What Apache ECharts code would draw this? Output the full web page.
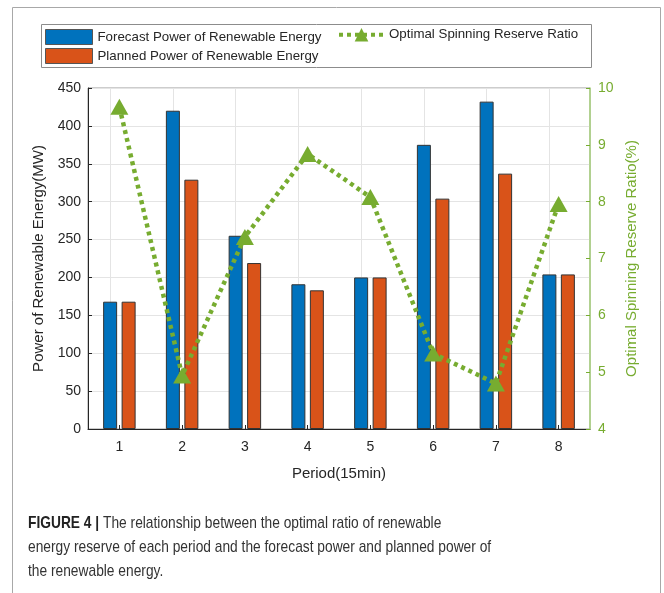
<!DOCTYPE html>
<html>
<head>
<meta charset="utf-8">
<script src="https://cdn.jsdelivr.net/npm/echarts@6/dist/echarts.min.js"></script>
<style>
  html, body { margin: 0; padding: 0; background: #fff; }
  #chart { width: 664px; height: 593px; }
</style>
</head>
<body>
<div id="chart"></div>
<script>
// Periods (15-minute intervals)
const periods = ['1', '2', '3', '4', '5', '6', '7', '8'];
// Renewable power, MW
const forecastPower = [168, 420, 255, 191, 200, 375, 432, 204];
const plannedPower = [168, 329, 219, 183, 200, 304, 337, 204];
// Optimal spinning reserve ratio, %
const reserveRatio = [9.67, 4.94, 7.38, 8.84, 8.08, 5.33, 4.80, 7.96];

const captionLines = [
  'The relationship between the optimal ratio of renewable',
  'energy reserve of each period and the forecast power and planned power of',
  'the renewable energy.'
];

const BLUE = '#0072BD';
const ORANGE = '#D95319';
const GREEN = '#77AC30';
const FONT = 'Liberation Sans, Arial, Helvetica, sans-serif';

const chart = echarts.init(document.getElementById('chart'), null, { renderer: 'canvas' });

const legendBase = {
  orient: 'horizontal',
  itemGap: 0,
  padding: 0,
  itemHeight: 15,
  textStyle: { fontFamily: FONT, fontSize: 13.3, color: '#262626' },
  selectedMode: false
};

// caption line, drawn narrow like the figure caption typeface
function captionText(top, text, rich) {
  return {
    type: 'text',
    x: 28, y: top,
    scaleX: 0.81,
    style: Object.assign({ text: text, font: '17px ' + FONT, fill: '#333' }, rich ? { rich: rich } : {})
  };
}

chart.setOption({
  animation: false,
  backgroundColor: '#fff',
  textStyle: { fontFamily: FONT },
  grid: {
    left: 88, right: 74, top: 88, bottom: 164,
    show: true, borderColor: '#9a9a9a', borderWidth: 1, backgroundColor: 'transparent'
  },
  legend: [
    Object.assign({}, legendBase, {
      left: 45, top: 29, itemWidth: 47, icon: 'rect',
      itemStyle: { borderColor: '#555', borderWidth: 1 },
      data: ['Forecast Power of Renewable Energy']
    }),
    Object.assign({}, legendBase, {
      left: 45, top: 48, itemWidth: 47, icon: 'rect',
      itemStyle: { borderColor: '#555', borderWidth: 1 },
      data: ['Planned Power of Renewable Energy']
    }),
    Object.assign({}, legendBase, {
      left: 337, top: 28, itemWidth: 45, itemHeight: 17,
      lineStyle: { width: 4, type: [4, 4], color: GREEN },
      data: ['Optimal Spinning Reserve Ratio']
    })
  ],
  xAxis: {
    type: 'category',
    data: periods,
    boundaryGap: true,
    name: 'Period(15min)',
    nameLocation: 'middle',
    nameGap: 37,
    nameTextStyle: { fontSize: 15, color: '#262626' },
    axisLine: { show: true, lineStyle: { color: '#262626', width: 1 } },
    axisTick: { show: true, alignWithLabel: true, inside: true, length: 4, lineStyle: { color: '#262626' } },
    axisLabel: { fontSize: 14, color: '#262626', margin: 11 },
    splitLine: { show: false }
  },
  yAxis: [
    {
      type: 'value',
      min: 0, max: 450, interval: 50,
      name: 'Power of Renewable Energy(MW)',
      nameLocation: 'middle',
      nameGap: 40,
      nameRotate: 90,
      nameTextStyle: { fontSize: 15, color: '#262626' },
      axisLine: { show: true, lineStyle: { color: '#262626', width: 1 } },
      axisTick: { show: true, inside: true, length: 4, lineStyle: { color: '#262626' } },
      axisLabel: { fontSize: 14, color: '#262626', margin: 7 },
      splitLine: { show: true, lineStyle: { color: '#e4e4e4', width: 1 } }
    },
    {
      type: 'value',
      position: 'right',
      min: 4, max: 10, interval: 1,
      name: 'Optimal Spinning Reserve Ratio(%)',
      nameLocation: 'middle',
      nameGap: 33,
      nameRotate: 90,
      nameTextStyle: { fontSize: 15, color: GREEN },
      axisLine: { show: true, lineStyle: { color: '#a9d27c', width: 1.5 } },
      axisTick: { show: true, inside: true, length: 4, lineStyle: { color: GREEN } },
      axisLabel: { fontSize: 14, color: GREEN, margin: 8 },
      splitLine: { show: false }
    }
  ],
  series: [
    {
      name: 'Forecast Power of Renewable Energy',
      type: 'bar',
      data: forecastPower,
      barWidth: 14,
      barGap: '32%',
      itemStyle: { color: BLUE, borderColor: '#333', borderWidth: 1 },
      markLine: {
        silent: true,
        z: 1,
        symbol: ['none', 'none'],
        label: { show: false },
        lineStyle: { color: '#e4e4e4', type: 'solid', width: 1 },
        data: periods.map(p => ({ xAxis: p }))
      }
    },
    {
      name: 'Planned Power of Renewable Energy',
      type: 'bar',
      data: plannedPower,
      barWidth: 14,
      barGap: '32%',
      itemStyle: { color: ORANGE, borderColor: '#333', borderWidth: 1 }
    },
    {
      name: 'Optimal Spinning Reserve Ratio',
      type: 'line',
      yAxisIndex: 1,
      data: reserveRatio,
      z: 5,
      symbol: 'triangle',
      symbolSize: [18, 16],
      itemStyle: { color: GREEN },
      lineStyle: { color: GREEN, width: 4.5, type: [4, 4], cap: 'butt' }
    }
  ],
  graphic: [
    {
      type: 'rect',
      shape: { x: 12.5, y: 7.5, width: 648, height: 600 },
      style: { fill: 'none', stroke: '#a8a8a8', lineWidth: 1 },
      silent: true, z: -1
    },
    {
      type: 'rect',
      shape: { x: 41.5, y: 24.5, width: 550, height: 43 },
      style: { fill: 'none', stroke: '#8c8c8c', lineWidth: 1 },
      silent: true
    },
    captionText(515, '{b|FIGURE 4 | }' + captionLines[0],
      { b: { fontWeight: 'bold', fontSize: 17, fontFamily: FONT, fill: '#222' } }),
    captionText(539, captionLines[1]),
    captionText(563, captionLines[2])
  ]
});
</script>
</body>
</html>
